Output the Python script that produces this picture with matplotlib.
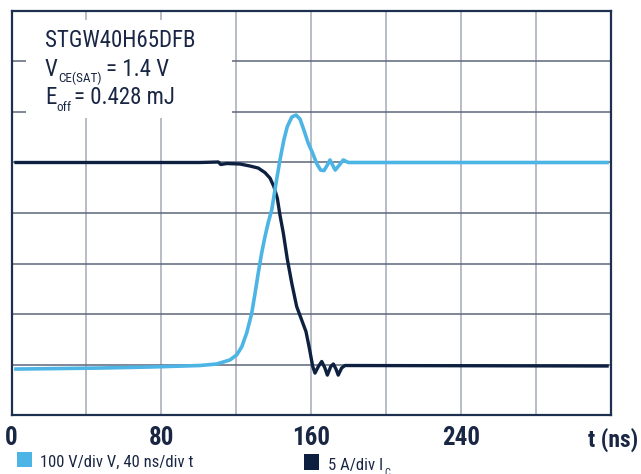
import numpy as np
import matplotlib
matplotlib.use('Agg')
import matplotlib.pyplot as plt
from matplotlib import font_manager
from matplotlib.patches import Rectangle

# pick a narrow face if there is one
narrow = 'DejaVu Sans'
for name in ['Roboto Condensed', 'Liberation Sans Narrow', 'DejaVu Sans Condensed', 'Roboto', 'Liberation Sans']:
    try:
        font_manager.findfont(font_manager.FontProperties(family=name), fallback_to_default=False)
        narrow = name
        break
    except ValueError:
        pass

plt.rcParams['font.family'] = [narrow, 'DejaVu Sans']

# time in ns, amplitude in divisions
v_t = [2.4, 47.2, 73.9, 100.6, 109.5, 116.6, 120.2, 122.9, 125.5, 128.2, 130.0, 131.7,
       133.5, 135.3, 137.1, 138.9, 141.2, 143.3, 145.4, 147.2, 149.6, 151.9, 154.0,
       156.1, 158.4, 160.8, 162.9, 165.0, 166.8, 168.6, 170.0, 171.4, 172.8, 175.0,
       177.1, 179.8, 317.9]
v_y = [0.91, 0.93, 0.95, 0.98, 1.01, 1.09, 1.19, 1.35, 1.62, 2.01, 2.41, 2.81,
       3.20, 3.53, 3.82, 4.06, 4.59, 5.05, 5.45, 5.71, 5.90, 5.94, 5.86,
       5.64, 5.38, 5.18, 4.98, 4.85, 4.84, 4.95, 5.05, 4.95, 4.85, 4.95,
       5.05, 5.00, 5.00]

i_t = [2.4, 100.6, 110.4, 111.7, 114.9, 122.0, 127.3, 131.7, 135.3, 138.0, 140.1,
       141.9, 143.3, 145.1, 147.2, 149.6, 152.2, 154.9, 157.2, 159.0, 160.8, 162.0,
       163.8, 165.6, 167.3, 168.6, 170.4, 171.8, 173.2, 174.4, 176.2, 178.0, 317.9]
i_y = [5.00, 5.00, 5.01, 4.96, 4.98, 4.97, 4.93, 4.89, 4.80, 4.69, 4.52,
       4.29, 3.96, 3.60, 3.09, 2.61, 2.15, 1.88, 1.65, 1.32, 0.96, 0.83,
       0.96, 1.06, 0.93, 0.79, 0.96, 1.01, 0.91, 0.79, 0.93, 0.98, 0.97]

xtick_vals = [0, 80, 160, 240]
xtick_labels = ['0', '80', '160', '240']

blue = '#4cb5e5'
navy = '#0e2040'
txt = '#1a2744'

fig = plt.figure(figsize=(6.41, 4.74), dpi=100)
ax = fig.add_axes([11.5 / 641, 1 - 415 / 474, 599.5 / 641, 404 / 474])
ax.set_xlim(0, 320)
ax.set_ylim(0, 8)

ax.set_xticks(xtick_vals)
ax.set_xticklabels(xtick_labels, fontsize=18, fontweight='bold', color=txt)
ax.set_xticks(np.arange(0, 321, 40), minor=True)
ax.set_yticks(np.arange(0, 9, 1))
ax.set_yticklabels([])
ax.tick_params(axis='both', which='both', length=0)
ax.tick_params(axis='x', pad=8)
ax.xaxis.grid(True, which='both', color='#a3a9b8', linewidth=1.1)
ax.yaxis.grid(True, color='#5d677c', linewidth=1.1)
ax.set_axisbelow(True)
for s in ax.spines.values():
    s.set_color('#1d3050')
    s.set_linewidth(1.6)

# white panel behind the annotation
ax.add_patch(Rectangle((0.024, 0.735), 0.344, 0.243, transform=ax.transAxes,
                       facecolor='white', edgecolor='none', zorder=1.5))

ax.plot(i_t, i_y, color=navy, linewidth=2.4, solid_joinstyle='round', zorder=3)
ax.plot(v_t, v_y, color=blue, linewidth=2.6, solid_joinstyle='round', zorder=4)

def fx(px):
    return px / 641

def fy(py):
    return 1 - py / 474

renderer = fig.canvas.get_renderer()

def chain(x0, parts):
    # parts: (text, size, baseline_px, gap_before_px)
    x = x0
    for s, size, base, gap in parts:
        x += gap
        t = fig.text(fx(x), fy(base), s, fontsize=size, color=txt, va='baseline')
        x = t.get_window_extent(renderer).x1

fig.text(fx(45), fy(47), 'STGW40H65DFB', fontsize=16.5, color=txt, va='baseline')
chain(45, [('V', 16.5, 76, 0), ('CE(SAT)', 9.5, 82, 0), ('= 1.4 V', 16.5, 76, 5)])
chain(45, [('E', 16.5, 104, 0), ('off', 9.5, 111, 0), ('= 0.428 mJ', 16.5, 104, 3)])

fig.text(fx(638), fy(447), 't (ns)', fontsize=17, fontweight='bold', color=txt,
         ha='right', va='baseline')

fig.patches.append(Rectangle((fx(17), fy(467)), 15 / 641, 15 / 474, transform=fig.transFigure,
                             facecolor=blue, edgecolor='none'))
fig.patches.append(Rectangle((fx(304), fy(470)), 15 / 641, 16 / 474, transform=fig.transFigure,
                             facecolor=navy, edgecolor='none'))
fig.text(fx(40), fy(467), '100 V/div V, 40 ns/div t', fontsize=12, color=txt, va='baseline')
chain(328, [('5 A/div I', 12, 470, 0), ('C', 7.5, 476, 1)])

fig.savefig('out.png', dpi=100)
